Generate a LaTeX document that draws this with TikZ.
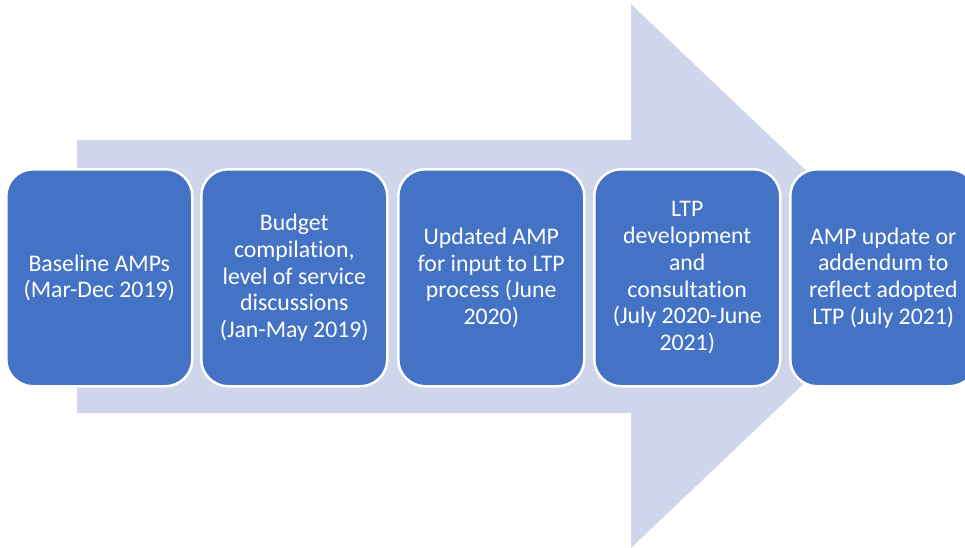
\documentclass[tikz,border=0pt]{standalone}
\usepackage{fontspec}
\setmainfont{Carlito}[Ligatures={NoCommon,NoContextual}]
\definecolor{boxblue}{HTML}{4472C4}
\definecolor{arrowlav}{HTML}{CFD5EA}
\begin{document}
\begin{tikzpicture}[x=1pt,y=-1pt,
  stage/.style={draw=white, line width=2.5pt, fill=boxblue, rounded corners=27pt,
    minimum width=186pt, minimum height=217pt, anchor=north west, inner sep=0pt,
    text=white, align=center, font=\fontsize{23.8}{26.7}\selectfont}]
\useasboundingbox (0,0) rectangle (965,547);
\fill[arrowlav] (77,140) -- (631,140) -- (631,4) -- (917,276) -- (631,548) -- (631,413) -- (77,413) -- cycle;
\node[stage] (s1) at (5,168) {Baseline AMPs\\(Mar-Dec 2019)};
\node[stage] (s2) at (200,168) {Budget\\compilation,\\level of service\\discussions\\(Jan-May 2019)};
\node[stage] (s3) at (397,168) {Updated AMP\\for input to LTP\\process (June\\2020)};
\node[stage] (s4) at (593,168) {LTP\\development\\and\\consultation\\(July 2020-June\\2021)};
\node[stage] (s5) at (789,168) {AMP update or\\addendum to\\reflect adopted\\LTP (July 2021)};
\end{tikzpicture}
\end{document}
